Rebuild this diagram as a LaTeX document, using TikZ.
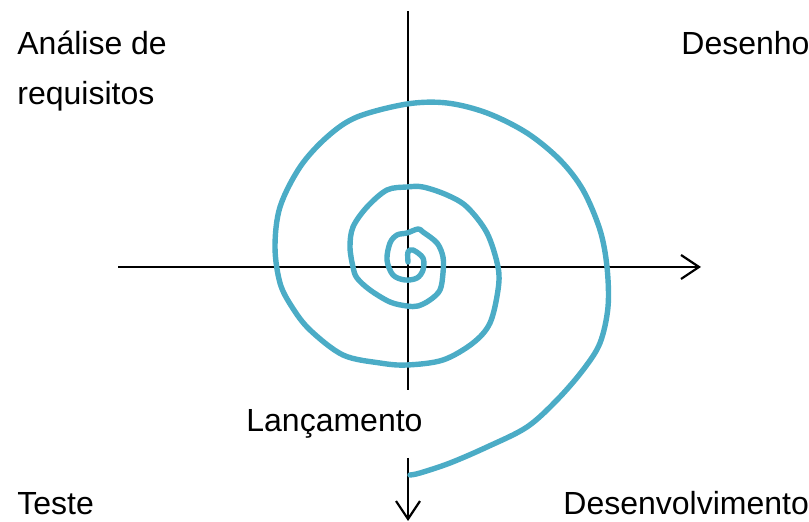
\documentclass[tikz,border=0pt]{standalone}
\usepackage{fontspec}
\setmainfont{Liberation Sans}
\usetikzlibrary{arrows.meta}
\definecolor{spiralblue}{RGB}{75,172,198}

\begin{document}
\begin{tikzpicture}[
    x=0.5pt, y=-0.5pt,
    axis/.style={line width=1.1pt,-{Straight Barb[length=9pt,width=12pt,line width=1.1pt]}},
    axisplain/.style={line width=1.1pt},
    spiralline/.style={draw=spiralblue,line width=2.7pt,line cap=round,line join=round},
    lbl/.style={font=\fontsize{16}{25}\selectfont,inner sep=0pt,anchor=base west,align=left}
  ]
    \useasboundingbox (0,0) rectangle (809,522);

    % axes
    \coordinate (hleft) at (118,267);
    \coordinate (hright) at (701,267);
    \coordinate (vtop) at (408,11);
    \coordinate (vmid) at (408,390);
    \coordinate (vlow) at (408,458);
    \coordinate (vbottom) at (408,521);
    \draw[axis] (hleft) -- (hright);
    \draw[axisplain] (vtop) -- (vmid);
    \draw[axis] (vlow) -- (vbottom);

    % spiral
    \draw[spiralline] plot[smooth,tension=0.55] coordinates {
      (408,262) (408,252) (413,250) (423,258) (423,270) (417,278) (405,280)
      (393,275) (387,260) (390,243) (397,235) (407,233) (418,229) (423,232)
      (437,243) (443,257) (443,273) (440,290) (430,300) (418,306) (407,306)
      (390,302) (370,290) (357,278) (353,267) (350,247) (353,227) (367,207)
      (387,190) (407,187) (423,187) (447,195) (467,207) (487,233) (498,267)
      (498,290) (490,323) (473,343) (443,360) (407,365) (380,363) (343,355)
      (310,330) (292,307) (280,283) (275,247) (280,207) (300,167) (327,137)
      (357,117) (407,104) (447,103) (487,113) (527,133) (560,160) (583,190)
      (600,230) (607,267) (608,307) (600,343) (583,370) (557,400) (527,427)
      (487,447) (450,463) (420,473) (410,475)};

    % labels
    \node[lbl] (analise) at (17,105) {Análise de\\requisitos};
    \node[lbl] (desenho) at (681,55) {Desenho};
    \node[lbl] (lancamento) at (246,432) {Lançamento};
    \node[lbl] (teste) at (17,515) {Teste};
    \node[lbl] (desenvolvimento) at (563,515) {Desenvolvimento};
\end{tikzpicture}
\end{document}
